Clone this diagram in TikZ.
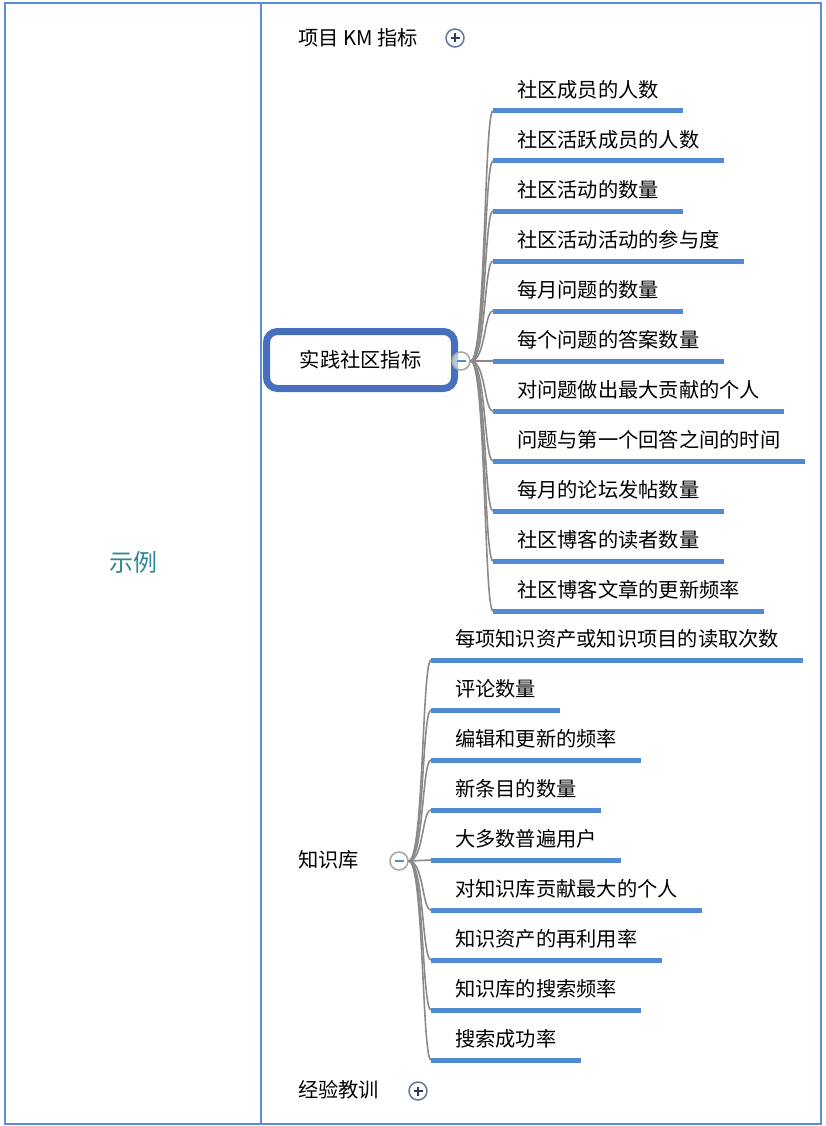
\documentclass[tikz,border=0pt]{standalone}
\usepackage{fontspec}
\setmainfont{Noto Sans CJK SC}
\usepackage{tikz}
\usetikzlibrary{positioning, calc}
\definecolor{frameBlue}{HTML}{5B8ED6}
\definecolor{lineBlue}{HTML}{4F8AD3}
\definecolor{topicBlue}{HTML}{4670BE}
\definecolor{exampleTeal}{HTML}{2F8597}
\definecolor{branchGray}{HTML}{8A8A8A}
\definecolor{toggleDark}{HTML}{2C3E5C}
\definecolor{toggleRing}{HTML}{66779A}

\begin{document}
\begin{tikzpicture}[
    x=1pt, y=-1pt,
    frame/.style={draw=frameBlue, line width=2.5pt},
    topic/.style={anchor=west, inner sep=0pt, font=\fontsize{20.25}{24}\selectfont},
    leaf/.style={anchor=south west, inner xsep=24pt, inner ysep=13pt, text depth=0pt, font=\fontsize{20.25}{24}\selectfont},
    uline/.style={draw=lineBlue, line width=5pt},
    branch/.style={draw=branchGray, line width=1.6pt},
    selbox/.style={draw=topicBlue, line width=7pt, rounded corners=11pt, fill=white, minimum width=188pt, minimum height=57pt, font=\fontsize{20.25}{24}\selectfont},
    minus/.style={circle, minimum size=18pt, inner sep=0pt, draw=gray!70, line width=1.5pt, fill=white, fill opacity=0.6,
        path picture={\draw[lineBlue, line width=1.3pt] ([xshift=-4.5pt]path picture bounding box.center) -- ([xshift=4.5pt]path picture bounding box.center);}},
    plus/.style={circle, minimum size=18pt, inner sep=0pt, draw=toggleRing, line width=1.5pt, fill=white,
        path picture={\draw[toggleDark, line width=1.5pt] ([xshift=-4.5pt]path picture bounding box.center) -- ([xshift=4.5pt]path picture bounding box.center)
            ([yshift=-4.5pt]path picture bounding box.center) -- ([yshift=4.5pt]path picture bounding box.center);}},
]
    \useasboundingbox (0,0) rectangle (826,1126);

    % Table frame
    \draw[frame] (5,3) rectangle (821,1124);
    \draw[frame] (261,3) -- (261,1124);
    \node[font=\fontsize{24}{28}\selectfont, text=exampleTeal] (example) at (133,562) {示例};

    % Top level topics
    \node[topic] (km) at (298,38) {项目 KM 指标};
    \node[plus] (kmtoggle) at (455,38) {};

    \node[selbox] (cop) at (360.5,360) {实践社区指标};
    \node[minus] (coptoggle) at (461,361) {};

    \node[topic] (kb) at (298,860) {知识库};
    \node[minus] (kbtoggle) at (399,861) {};

    \node[topic] (lessons) at (298,1090) {经验教训};
    \node[plus] (lestoggle) at (418,1091) {};

    % Community of practice metrics
    \node[leaf] (c1) at (493,111) {社区成员的人数};
    \node[leaf] (c2) at (493,161) {社区活跃成员的人数};
    \node[leaf] (c3) at (493,211) {社区活动的数量};
    \node[leaf] (c4) at (493,261) {社区活动活动的参与度};
    \node[leaf] (c5) at (493,311) {每月问题的数量};
    \node[leaf] (c6) at (493,361) {每个问题的答案数量};
    \node[leaf] (c7) at (493,411) {对问题做出最大贡献的个人};
    \node[leaf] (c8) at (493,461) {问题与第一个回答之间的时间};
    \node[leaf] (c9) at (493,511) {每月的论坛发帖数量};
    \node[leaf] (c10) at (493,561) {社区博客的读者数量};
    \node[leaf] (c11) at (493,611) {社区博客文章的更新频率};

    % Knowledge base metrics
    \node[leaf] (k1) at (431,660) {每项知识资产或知识项目的读取次数};
    \node[leaf] (k2) at (431,710) {评论数量};
    \node[leaf] (k3) at (431,760) {编辑和更新的频率};
    \node[leaf] (k4) at (431,810) {新条目的数量};
    \node[leaf] (k5) at (431,860) {大多数普遍用户};
    \node[leaf] (k6) at (431,910) {对知识库贡献最大的个人};
    \node[leaf] (k7) at (431,960) {知识资产的再利用率};
    \node[leaf] (k8) at (431,1010) {知识库的搜索频率};
    \node[leaf] (k9) at (431,1060) {搜索成功率};

    % Branches
    \draw[branch] (coptoggle.east) .. controls +(15,0) and +(-9,0) .. (c1.south west);
    \draw[branch] (coptoggle.east) .. controls +(15,0) and +(-9,0) .. (c2.south west);
    \draw[branch] (coptoggle.east) .. controls +(15,0) and +(-9,0) .. (c3.south west);
    \draw[branch] (coptoggle.east) .. controls +(15,0) and +(-9,0) .. (c4.south west);
    \draw[branch] (coptoggle.east) .. controls +(15,0) and +(-9,0) .. (c5.south west);
    \draw[branch] (coptoggle.east) -- (c6.south west);
    \draw[branch] (coptoggle.east) .. controls +(15,0) and +(-9,0) .. (c7.south west);
    \draw[branch] (coptoggle.east) .. controls +(15,0) and +(-9,0) .. (c8.south west);
    \draw[branch] (coptoggle.east) .. controls +(15,0) and +(-9,0) .. (c9.south west);
    \draw[branch] (coptoggle.east) .. controls +(15,0) and +(-9,0) .. (c10.south west);
    \draw[branch] (coptoggle.east) .. controls +(15,0) and +(-9,0) .. (c11.south west);

    \draw[branch] (kbtoggle.east) .. controls +(15,0) and +(-9,0) .. (k1.south west);
    \draw[branch] (kbtoggle.east) .. controls +(15,0) and +(-9,0) .. (k2.south west);
    \draw[branch] (kbtoggle.east) .. controls +(15,0) and +(-9,0) .. (k3.south west);
    \draw[branch] (kbtoggle.east) .. controls +(15,0) and +(-9,0) .. (k4.south west);
    \draw[branch] (kbtoggle.east) -- (k5.south west);
    \draw[branch] (kbtoggle.east) .. controls +(15,0) and +(-9,0) .. (k6.south west);
    \draw[branch] (kbtoggle.east) .. controls +(15,0) and +(-9,0) .. (k7.south west);
    \draw[branch] (kbtoggle.east) .. controls +(15,0) and +(-9,0) .. (k8.south west);
    \draw[branch] (kbtoggle.east) .. controls +(15,0) and +(-9,0) .. (k9.south west);

    % Underlines
    \draw[uline] (c1.south west) -- (c1.south east);
    \draw[uline] (c2.south west) -- (c2.south east);
    \draw[uline] (c3.south west) -- (c3.south east);
    \draw[uline] (c4.south west) -- (c4.south east);
    \draw[uline] (c5.south west) -- (c5.south east);
    \draw[uline] (c6.south west) -- (c6.south east);
    \draw[uline] (c7.south west) -- (c7.south east);
    \draw[uline] (c8.south west) -- (c8.south east);
    \draw[uline] (c9.south west) -- (c9.south east);
    \draw[uline] (c10.south west) -- (c10.south east);
    \draw[uline] (c11.south west) -- (c11.south east);
    \draw[uline] (k1.south west) -- (k1.south east);
    \draw[uline] (k2.south west) -- (k2.south east);
    \draw[uline] (k3.south west) -- (k3.south east);
    \draw[uline] (k4.south west) -- (k4.south east);
    \draw[uline] (k5.south west) -- (k5.south east);
    \draw[uline] (k6.south west) -- (k6.south east);
    \draw[uline] (k7.south west) -- (k7.south east);
    \draw[uline] (k8.south west) -- (k8.south east);
    \draw[uline] (k9.south west) -- (k9.south east);
\end{tikzpicture}
\end{document}
